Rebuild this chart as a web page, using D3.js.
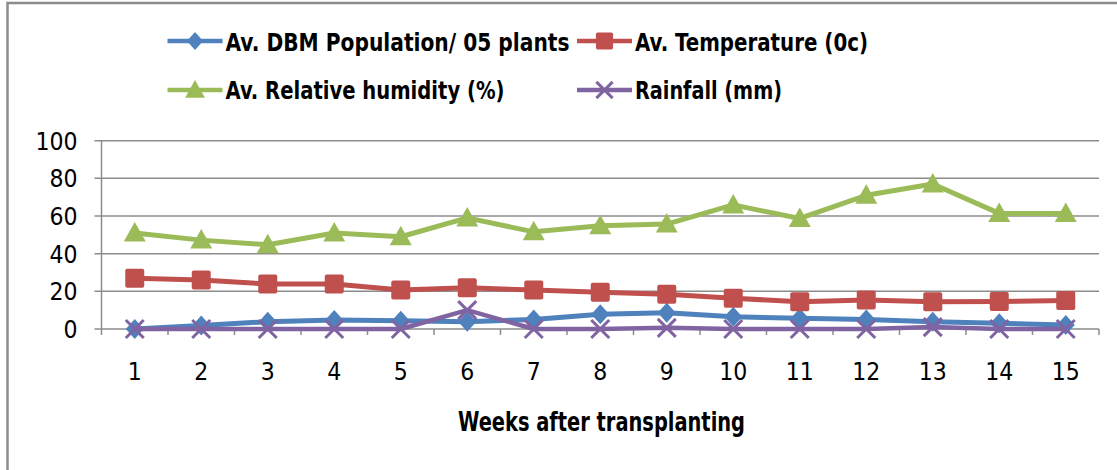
<!DOCTYPE html>
<html><head><meta charset="utf-8">
<script src="https://cdn.jsdelivr.net/npm/d3@7"></script>
<style>
body{margin:0;background:#fff;}
svg{display:block;}
text{font-family:"DejaVu Sans Condensed","DejaVu Sans",sans-serif;font-stretch:condensed;fill:#000;}
</style></head>
<body><svg id="c" width="1117" height="470"></svg>
<script>
const weeks = ["1","2","3","4","5","6","7","8","9","10","11","12","13","14","15"];
const dbm = [0,1.8,3.9,4.8,4.4,3.9,5.1,7.8,8.6,6.5,5.7,5.1,3.9,3.0,2.1];
const temperature = [26.9,26,23.9,23.9,20.7,21.9,20.7,19.5,18.4,16.3,14.5,15.4,14.5,14.6,15.2];
const humidity = [51,47.2,44.7,51,49,59,51.6,54.8,55.7,65.9,58.7,71,77,61.4,61.4];
const rainfall = [0,0,0,0,0,10,0,0,0.6,0,0,0,1,0,0];
const yTicks = [0,20,40,60,80,100];
const seriesNames = ["Av. DBM Population/ 05 plants","Av. Temperature (0c)","Av. Relative humidity (%)","Rainfall (mm)"];
const xTitle = "Weeks after transplanting";

(function(){
const series = [
  {name:seriesNames[0], values:dbm, color:"#4F81BD", shape:"diamond", tl:344},
  {name:seriesNames[1], values:temperature, color:"#C0504D", shape:"square", tl:233},
  {name:seriesNames[2], values:humidity, color:"#9BBB59", shape:"triangle", tl:279},
  {name:seriesNames[3], values:rainfall, color:"#8064A2", shape:"x", tl:147}
];

const svg = d3.select("#c");
svg.append("rect").attr("x",7.5).attr("y",3).attr("width",1200).attr("height",600)
  .attr("fill","none").attr("stroke","#8c8c8c").attr("stroke-width",2.5);

const pl = 101.5, pr = 1099, pt = 140.7, pb = 329;
const x = d3.scalePoint().domain(weeks).range([pl,pr]).padding(0.5);
const y = d3.scaleLinear().domain([0,100]).range([pb,pt]);
const step = x.step();

svg.append("g").selectAll("line").data(yTicks).join("line")
  .attr("x1",pl-7).attr("x2",pr).attr("y1",d=>y(d)).attr("y2",d=>y(d))
  .attr("stroke","#8c8c8c").attr("stroke-width",1.5);
svg.append("line").attr("x1",pl).attr("x2",pl).attr("y1",pt).attr("y2",pb)
  .attr("stroke","#8c8c8c").attr("stroke-width",1.5);
const bounds = d3.range(weeks.length+1).map(i=>pl+i*step);
svg.append("g").selectAll("line").data(bounds).join("line")
  .attr("x1",d=>d).attr("x2",d=>d).attr("y1",pb).attr("y2",pb+6)
  .attr("stroke","#8c8c8c").attr("stroke-width",1.5);
svg.append("g").selectAll("text").data(yTicks).join("text")
  .attr("x",pl-24).attr("y",d=>y(d)+9).attr("text-anchor","end")
  .attr("font-size",24.5).text(d=>d);
svg.append("g").selectAll("text").data(weeks).join("text")
  .attr("x",d=>x(d)).attr("y",380).attr("text-anchor","middle")
  .attr("font-size",24.5).text(d=>d);
svg.append("text").attr("x",458).attr("y",431)
  .attr("font-size",26).attr("font-weight","bold")
  .attr("textLength",287).attr("lengthAdjust","spacingAndGlyphs").text(xTitle);

function marker(g, shape, color, k){
  if(shape==="diamond") g.append("path").attr("d",`M0,${-10*k}L${9*k},0L0,${10*k}L${-9*k},0Z`).attr("fill",color);
  else if(shape==="square") g.append("rect").attr("x",-9.5*k).attr("y",-9.5*k).attr("width",19*k).attr("height",19*k).attr("rx",2*k).attr("fill",color);
  else if(shape==="triangle") g.append("path").attr("d",`M0,${-11*k}L${11*k},${8.5*k}L${-11*k},${8.5*k}Z`).attr("fill",color);
  else g.append("path").attr("d",`M${-9*k},${-9*k}L${9*k},${9*k}M${-9*k},${9*k}L${9*k},${-9*k}`).attr("stroke",color).attr("stroke-width",3).attr("fill","none");
}

const line = d3.line().x((d,i)=>x(weeks[i])).y(d=>y(d));
series.forEach(s=>{
  const g = svg.append("g");
  g.append("path").datum(s.values).attr("d",line).attr("fill","none")
    .attr("stroke",s.color).attr("stroke-width",s.shape==="x"?4.5:5).attr("stroke-linejoin","round");
  g.selectAll("g").data(s.values).join("g")
    .attr("transform",(d,i)=>`translate(${x(weeks[i])},${y(d)})`)
    .each(function(){ marker(d3.select(this), s.shape, s.color, 1); });
});

const legendPos = [[167.5,41,51],[577,41,51],[167.5,90,99],[577,90,99]];
series.forEach((s,i)=>{
  const [lx,ly,bl] = legendPos[i];
  const g = svg.append("g");
  g.append("line").attr("x1",lx).attr("x2",lx+55).attr("y1",ly).attr("y2",ly).attr("stroke",s.color).attr("stroke-width",4.5);
  const m = g.append("g").attr("transform",`translate(${lx+27.5},${ly})`);
  marker(m, s.shape, s.color, 0.9);
  g.append("text").attr("x",lx+58).attr("y",bl).attr("font-size",25.5)
    .attr("font-weight","bold").attr("textLength",s.tl).attr("lengthAdjust","spacingAndGlyphs").text(s.name);
});
})();
</script></body></html>
